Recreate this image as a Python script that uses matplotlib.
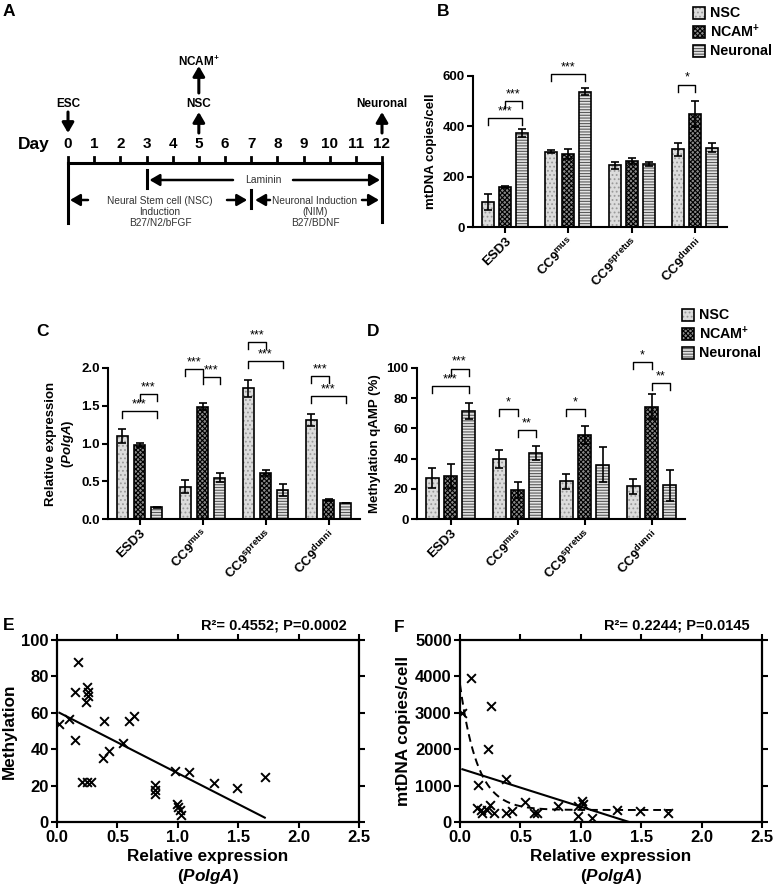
import numpy as np
import matplotlib
matplotlib.use("Agg")
import matplotlib.pyplot as plt
from matplotlib.patches import Rectangle

W, H = 777, 892

plt.rcParams["font.family"] = ["Liberation Sans", "DejaVu Sans"]
plt.rcParams["font.weight"] = "bold"
plt.rcParams["axes.labelweight"] = "bold"
plt.rcParams["mathtext.fontset"] = "custom"
plt.rcParams["mathtext.rm"] = "Liberation Sans"
plt.rcParams["mathtext.it"] = "Liberation Sans:italic:bold"
plt.rcParams["mathtext.bf"] = "Liberation Sans:bold"
plt.rcParams["hatch.linewidth"] = 0.8

# ---- data ----
groups = ["ESD3", "CC9$^{\\mathrm{mus}}$", "CC9$^{\\mathrm{spretus}}$", "CC9$^{\\mathrm{dunni}}$"]
series = ["NSC", "NCAM$^{\\mathbf{+}}$", "Neuronal"]

# B: mtDNA copies/cell
b_vals = [[100, 299, 245, 309],
          [158, 290, 263, 449],
          [372, 538, 249, 315]]
b_errs = [[32, 5, 13, 25],
          [5, 19, 12, 50],
          [16, 13, 8, 18]]
# (group, bar from, bar to, height, label)
b_sig = [(0, 1, 2, 500, "***"), (0, 0, 2, 432, "***"),
         (1, 0, 2, 606, "***"), (3, 0, 1, 566, "*")]

# C: relative expression PolgA
c_vals = [[1.10, 0.43, 1.73, 1.31],
          [0.98, 1.49, 0.61, 0.255],
          [0.155, 0.545, 0.38, 0.21]]
c_errs = [[0.09, 0.09, 0.11, 0.08],
          [0.025, 0.05, 0.045, 0.01],
          [0.01, 0.06, 0.08, 0.0]]
c_sig = [(0, 1, 2, 1.66, "***"), (0, 0, 2, 1.43, "***"),
         (1, 0, 1, 1.99, "***"), (1, 1, 2, 1.88, "***"),
         (2, 0, 1, 2.34, "***"), (2, 0, 2, 2.09, "***"),
         (3, 0, 1, 1.89, "***"), (3, 0, 2, 1.63, "***")]

# D: methylation qAMP (%)
d_vals = [[27.2, 39.7, 24.9, 21.6],
          [28.3, 19.0, 55.8, 74.5],
          [71.7, 43.7, 36.0, 22.3]]
d_errs = [[6.6, 5.9, 5.0, 4.9],
          [8.0, 5.2, 6.0, 8.2],
          [5.4, 4.4, 11.5, 10.3]]
d_sig = [(0, 1, 2, 99.6, "***"), (0, 0, 2, 88.3, "***"),
         (1, 0, 1, 72.8, "*"), (1, 1, 2, 58.7, "**"),
         (2, 0, 1, 72.8, "*"),
         (3, 0, 1, 104.2, "*"), (3, 1, 2, 90.0, "**")]

# E: methylation vs PolgA expression
e_x = [0.02, 0.10, 0.17, 0.15, 0.15, 0.21, 0.25, 0.28, 0.25, 0.26,
       0.24, 0.26, 0.39, 0.38, 0.43, 0.55, 0.60, 0.64, 0.81, 0.81,
       0.81, 0.98, 1.09, 0.99, 1.00, 1.02, 1.03, 1.30, 1.49, 1.72]
e_y = [54.1, 56.5, 87.7, 71.2, 45.3, 22.0, 22.0, 22.0, 74.1, 71.6,
       66.1, 69.4, 55.4, 34.9, 39.1, 43.5, 55.4, 58.2, 20.6, 17.8,
       15.6, 27.9, 27.2, 10.1, 8.3, 6.8, 4.0, 21.5, 18.7, 24.8]
e_fit = (60.7, -33.9)  # intercept, slope
e_title = "R²= 0.4552; P=0.0002"

# F: mtDNA copies vs PolgA expression
f_x = [0.02, 0.09, 0.26, 0.23, 0.15, 0.38, 0.14, 0.17, 0.18, 0.22,
       0.25, 0.28, 0.38, 0.43, 0.54, 0.61, 0.64, 0.81, 0.98, 0.98,
       1.01, 1.02, 1.09, 1.30, 1.49, 1.72]
f_y = [3000, 3945, 3193, 2000, 1009, 1193, 394, 321, 248, 339,
       477, 248, 248, 294, 550, 248, 248, 440, 431, 156,
       578, 486, 119, 321, 294, 248]
f_fit = (1470, -1050)  # intercept, slope
f_decay = (330, 3450, 7.0)  # plateau, span, rate of one-phase decay fit
f_title = "R²= 0.2244; P=0.0145"

# ---- styles ----
offsets = [-0.27, 0.0, 0.27]
bw = 0.19
fills = ["#dcdcdc", "#8a8a8a", "#e4e4e4"]
hatch_cols = ["#9a9a9a", "#000000", "#5a5a5a"]
hatches = ["....", "xxxxxxx", "------"]

fig = plt.figure(figsize=(W / 100, H / 100), dpi=100)

# overlay in pixel coordinates for panel A, letters and legends
ov = fig.add_axes([0, 0, 1, 1])
ov.set_xlim(0, W)
ov.set_ylim(H, 0)
ov.axis("off")


def rect(l, t, r, b):
    return [l / W, 1 - b / H, (r - l) / W, (b - t) / H]


def swatch(x, y, i):
    ov.add_patch(Rectangle((x, y - 6), 12, 12, facecolor=fills[i], edgecolor=hatch_cols[i],
                           hatch=hatches[i], lw=0))
    ov.add_patch(Rectangle((x, y - 6), 12, 12, fill=False, edgecolor="k", lw=1.2))
    ov.text(x + 17, y, series[i], fontsize=10.3, va="center", ha="left")


def bar_panel(ax, vals, errs, sig, ylim, yticks, fmt, ylabel):
    x0 = np.arange(len(groups))
    for i in range(3):
        x = x0 + offsets[i]
        ax.bar(x, vals[i], width=bw, color=fills[i], edgecolor=hatch_cols[i],
               hatch=hatches[i], lw=0, zorder=2)
        ax.bar(x, vals[i], width=bw, fill=False, edgecolor="k", lw=1.2, zorder=3)
        ax.errorbar(x, vals[i], yerr=errs[i], fmt="none", ecolor="k", elinewidth=1.2,
                    capsize=3, capthick=1.2, zorder=4)
    ax.set_xlim(-0.5, 3.5)
    ax.set_ylim(*ylim)
    ax.set_yticks(yticks)
    ax.set_yticklabels([fmt.format(t) for t in yticks])
    ax.set_xticks(x0)
    ax.set_xticklabels(groups, rotation=45, ha="right", va="top", rotation_mode="anchor")
    for s in ["top", "right"]:
        ax.spines[s].set_visible(False)
    for s in ["left", "bottom"]:
        ax.spines[s].set_linewidth(1.5)
    ax.tick_params(direction="out", length=4, width=1.5, labelsize=9.5, pad=2)
    ax.set_ylabel(ylabel, fontsize=9.5, labelpad=4)
    leg = 7 * (ylim[1] - ylim[0]) / 151
    for g, a, b, h, lab in sig:
        xa, xb = g + offsets[a], g + offsets[b]
        ax.plot([xa, xa, xb, xb], [h - leg, h, h, h - leg], color="k", lw=1.0, clip_on=False)
        ax.text((xa + xb) / 2, h + leg * 0.1, lab, ha="center", va="bottom", fontsize=9,
                fontweight="normal")


# ---- panel A: timeline ----
days = list(range(13))
d0, d12 = 68, 382


def dx(d):
    return d0 + d * (d12 - d0) / 12


akw = dict(arrowstyle="-|>,head_length=0.6,head_width=0.35", lw=2.2, color="k",
           shrinkA=0, shrinkB=0)
thin = dict(arrowstyle="-|>,head_length=0.6,head_width=0.35", lw=1.8, color="k",
            shrinkA=0, shrinkB=0)

ov.text(18, 144, "Day", fontsize=12.5, va="center", ha="left")
for d in days:
    ov.text(dx(d), 144, str(d), fontsize=11, va="center", ha="center")
    ov.plot([dx(d), dx(d)], [157, 163], color="k", lw=2)
ov.plot([dx(0), dx(12)], [163, 163], color="k", lw=2.2)
ov.plot([dx(0), dx(0)], [163, 223], color="k", lw=2.2)
ov.plot([dx(12), dx(12)], [163, 222], color="k", lw=2.2)
ov.plot([dx(3), dx(3)], [170, 188], color="k", lw=2.2)
ov.plot([dx(7), dx(7)], [190, 208], color="k", lw=2.2)

ov.text(dx(0), 104, "ESC", fontsize=8.5, ha="center", va="center")
ov.annotate("", xy=(dx(0), 133), xytext=(dx(0), 112), arrowprops=akw)
ov.text(dx(5), 104, "NSC", fontsize=8.5, ha="center", va="center")
ov.annotate("", xy=(dx(5), 112), xytext=(dx(5), 133), arrowprops=akw)
ov.text(dx(5), 62, "NCAM$^{\\mathbf{+}}$", fontsize=8.5, ha="center", va="center")
ov.annotate("", xy=(dx(5), 66), xytext=(dx(5), 93), arrowprops=akw)
ov.text(dx(12), 104, "Neuronal", fontsize=8.5, ha="center", va="center")
ov.annotate("", xy=(dx(12), 112), xytext=(dx(12), 133), arrowprops=akw)

ov.text(263, 180, "Laminin", fontsize=7.5, fontweight="normal", ha="center", va="center",
        color="#333333")
ov.annotate("", xy=(dx(3) + 3, 180), xytext=(233, 180), arrowprops=thin)
ov.annotate("", xy=(dx(12) - 2, 180), xytext=(293, 180), arrowprops=thin)

ov.annotate("", xy=(dx(0) + 2, 200), xytext=(88, 200), arrowprops=thin)
ov.annotate("", xy=(dx(7) - 4, 200), xytext=(227, 200), arrowprops=thin)
ov.annotate("", xy=(dx(7) + 4, 200), xytext=(270, 200), arrowprops=thin)
ov.annotate("", xy=(dx(12) - 3, 200), xytext=(362, 200), arrowprops=thin)
for j, line in enumerate(["Neural Stem cell (NSC)", "Induction", "B27/N2/bFGF"]):
    ov.text(160, 201 + 11 * j, line, fontsize=7.3, fontweight="normal", ha="center",
            va="center", color="#333333")
for j, line in enumerate(["Neuronal Induction", "(NIM)", "B27/BDNF"]):
    ov.text(315, 201 + 11 * j, line, fontsize=7.3, fontweight="normal", ha="center",
            va="center", color="#333333")

# panel letters
for lab, x, y in [("A", 3, 12), ("B", 437, 12), ("C", 36, 332), ("D", 367, 332),
                  ("E", 3, 625), ("F", 394, 627)]:
    ov.text(x, y, lab, fontsize=12.5, ha="left", va="center")

# legends
for i in range(3):
    swatch(693, 13 + 19 * i, i)
    swatch(682, 315 + 19 * i, i)

# ---- panel B ----
axB = fig.add_axes(rect(473, 76, 727, 227))
bar_panel(axB, b_vals, b_errs, b_sig, (0, 600), [0, 200, 400, 600], "{:d}",
          "mtDNA copies/cell")

# ---- panel C ----
axC = fig.add_axes(rect(108, 368, 360, 519))
bar_panel(axC, c_vals, c_errs, c_sig, (0, 2.0), [0.0, 0.5, 1.0, 1.5, 2.0], "{:.1f}",
          "Relative expression\n($\\mathit{PolgA}$)")

# ---- panel D ----
axD = fig.add_axes(rect(417, 368, 685, 519))
bar_panel(axD, d_vals, d_errs, d_sig, (0, 100), [0, 20, 40, 60, 80, 100], "{:d}",
          "Methylation qAMP (%)")


# ---- scatter panels ----
def scatter_panel(ax, xs, ys, ylim, yticks, ylabel, title):
    ax.scatter(xs, ys, marker="x", s=40, color="k", linewidths=1.4, zorder=3)
    ax.set_xlim(0, 2.5)
    ax.set_ylim(*ylim)
    ax.set_xticks([0.0, 0.5, 1.0, 1.5, 2.0, 2.5])
    ax.set_xticklabels(["0.0", "0.5", "1.0", "1.5", "2.0", "2.5"])
    ax.set_yticks(yticks)
    for s in ax.spines.values():
        s.set_linewidth(1.6)
    ax.tick_params(direction="out", length=4, width=1.5, labelsize=12, pad=2,
                   top=True, right=True)
    ax.set_xlabel("Relative expression\n($\\mathit{PolgA}$)", fontsize=12.3, labelpad=3)
    ax.set_ylabel(ylabel, fontsize=12.3, labelpad=3)
    ax.text(0.96, 1.04, title, transform=ax.transAxes, ha="right", va="bottom", fontsize=10.5)


axE = fig.add_axes(rect(57, 640, 359, 822))
scatter_panel(axE, e_x, e_y, (0, 100), [0, 20, 40, 60, 80, 100], "Methylation", e_title)
xl = np.array([min(e_x), max(e_x)])
axE.plot(xl, e_fit[0] + e_fit[1] * xl, color="k", lw=1.5)

axF = fig.add_axes(rect(460, 640, 762, 822))
scatter_panel(axF, f_x, f_y, (0, 5000), [0, 1000, 2000, 3000, 4000, 5000],
              "mtDNA copies/cell", f_title)
xl = np.array([min(f_x), max(f_x)])
axF.plot(xl, f_fit[0] + f_fit[1] * xl, color="k", lw=1.5)
xc = np.linspace(0, max(f_x) + 0.03, 200)
axF.plot(xc, f_decay[0] + f_decay[1] * np.exp(-f_decay[2] * xc), color="k", lw=1.4,
         ls=(0, (4, 2.5)))

fig.savefig("out.png", dpi=100)
